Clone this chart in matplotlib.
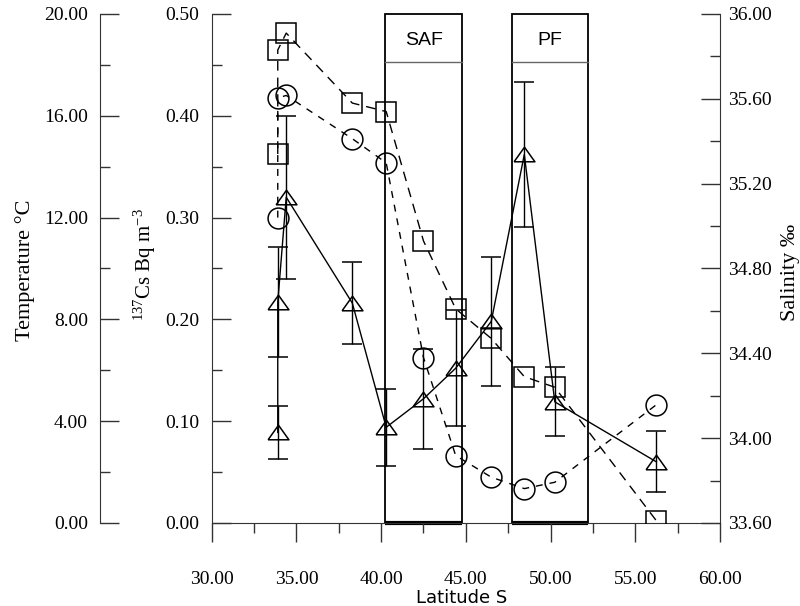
import matplotlib
matplotlib.use('Agg')
import matplotlib.pyplot as plt
from matplotlib.patches import Rectangle
from matplotlib.ticker import MultipleLocator, FormatStrFormatter

# station latitudes (S) shared by all three series
lat = [33.9, 33.9, 34.4, 38.3, 40.3, 42.5, 44.4, 46.5, 48.45, 50.25, 56.25]
temp = [12.0, 16.7, 16.8, 15.1, 14.15, 6.5, 2.65, 1.8, 1.35, 1.6, 4.65]
salinity = [35.34, 35.83, 35.91, 35.58, 35.54, 34.93, 34.61, 34.47, 34.29, 34.24, 33.61]
cs = [0.089, 0.217, 0.32, 0.216, 0.094, 0.122, 0.152, 0.198, 0.362, 0.119, 0.060]
cs_err = [0.026, 0.054, 0.08, 0.040, 0.038, 0.049, 0.057, 0.063, 0.071, 0.034, 0.030]

# frontal zones
fronts = ['SAF', 'PF']
front_left = [40.23, 47.71]
front_right = [44.78, 52.21]

plt.rcParams['font.family'] = 'Liberation Serif'
plt.rcParams['mathtext.fontset'] = 'custom'
plt.rcParams['mathtext.rm'] = 'Liberation Serif'
plt.rcParams['mathtext.default'] = 'regular'

spine_col = '#333333'

fig = plt.figure(figsize=(8, 6.06), dpi=100)
ax = fig.add_axes([0.2646, 0.1370, 0.6354, 0.8399])
ax_t = ax.twinx()
ax_s = ax.twinx()

# main axes: 137Cs
for s in ['top', 'right']:
    ax.spines[s].set_visible(False)
for s in ['left', 'bottom']:
    ax.spines[s].set_color(spine_col)
ax.set_xlim(30, 60)
ax.set_ylim(0, 0.5)
ax.xaxis.set_major_locator(MultipleLocator(5))
ax.xaxis.set_minor_locator(MultipleLocator(2.5))
ax.xaxis.set_major_formatter(FormatStrFormatter('%.2f'))
ax.yaxis.set_major_locator(MultipleLocator(0.1))
ax.yaxis.set_minor_locator(MultipleLocator(0.05))
ax.yaxis.set_major_formatter(FormatStrFormatter('%.2f'))
ax.yaxis.set_ticks_position('left')
ax.tick_params(axis='x', which='major', direction='out', length=14, width=1,
               pad=20.5, labelsize=14, color=spine_col)
ax.tick_params(axis='x', which='minor', direction='out', length=7, width=1,
               color=spine_col)
ax.tick_params(axis='y', which='major', direction='in', length=14, width=1,
               pad=9, labelsize=14, color=spine_col)
ax.tick_params(axis='y', which='minor', direction='in', length=7, width=1,
               color=spine_col)

# temperature axis, moved out to the left
for s in ['top', 'right', 'bottom']:
    ax_t.spines[s].set_visible(False)
ax_t.spines['left'].set_visible(True)
ax_t.spines['left'].set_position(('axes', -0.2198))
ax_t.spines['left'].set_color(spine_col)
ax_t.yaxis.set_ticks_position('left')
ax_t.set_ylim(0, 20)
ax_t.yaxis.set_major_locator(MultipleLocator(4))
ax_t.yaxis.set_minor_locator(MultipleLocator(2))
ax_t.yaxis.set_major_formatter(FormatStrFormatter('%.2f'))
ax_t.tick_params(axis='y', which='major', direction='in', length=14, width=1,
                 pad=8.6, labelsize=14, color=spine_col)
ax_t.tick_params(axis='y', which='minor', direction='in', length=7, width=1,
                 color=spine_col)

# salinity axis on the right
for s in ['top', 'left', 'bottom']:
    ax_s.spines[s].set_visible(False)
ax_s.spines['right'].set_color(spine_col)
ax_s.set_ylim(33.6, 36.0)
ax_s.yaxis.set_major_locator(MultipleLocator(0.4))
ax_s.yaxis.set_minor_locator(MultipleLocator(0.2))
ax_s.yaxis.set_major_formatter(FormatStrFormatter('%.2f'))
ax_s.tick_params(axis='y', which='major', direction='in', length=14, width=1,
                 pad=6, labelsize=14, color=spine_col)
ax_s.tick_params(axis='y', which='minor', direction='in', length=7, width=1,
                 color=spine_col)

# front boxes
for name, l, r in zip(fronts, front_left, front_right):
    ax.add_patch(Rectangle((l, 0), r - l, 0.5, fill=False, ec='k', lw=1.3,
                           clip_on=False, zorder=1))
    ax.plot([l, r], [0, 0], color='k', lw=3, solid_capstyle='butt',
            clip_on=False, zorder=1)
    ax.plot([l, r], [0.453, 0.453], color='#666666', lw=1, zorder=1)
    ax.text((l + r) / 2, 0.474, name, ha='center', va='center', fontsize=14,
            family='Liberation Sans')

# data
tri = [(-1, -0.7), (0, 0.7), (1, -0.7), (-1, -0.7)]
ax.errorbar(lat, cs, yerr=cs_err, color='k', lw=1, marker=tri, ms=15,
            mfc='none', mec='k', mew=1.1, capsize=7, capthick=1,
            elinewidth=1, zorder=3)
ax_t.plot(lat, temp, color='k', lw=1, ls=(0, (5, 5)), marker='o', ms=15,
          mfc='none', mec='k', mew=1.1)
ax_s.plot(lat, salinity, color='k', lw=1, ls=(0, (7, 5)), marker='s',
          ms=14.4, mfc='none', mec='k', mew=1.1)

# axis titles
fig.text(462 / 800, 1 - 598 / 606, 'Latitude S', ha='center', va='center',
         fontsize=13, family='DejaVu Sans')
fig.text(25 / 800, 1 - 270 / 606, 'Temperature °C', rotation=90,
         ha='center', va='center', fontsize=16)
fig.text(145 / 800, 1 - 265 / 606, r'$^{137}$Cs Bq m$^{-3}$', rotation=90,
         ha='center', va='center', fontsize=15)
fig.text(791 / 800, 1 - 272 / 606, 'Salinity ‰', rotation=90,
         ha='center', va='center', fontsize=16)

fig.savefig('out.png', dpi=100)
